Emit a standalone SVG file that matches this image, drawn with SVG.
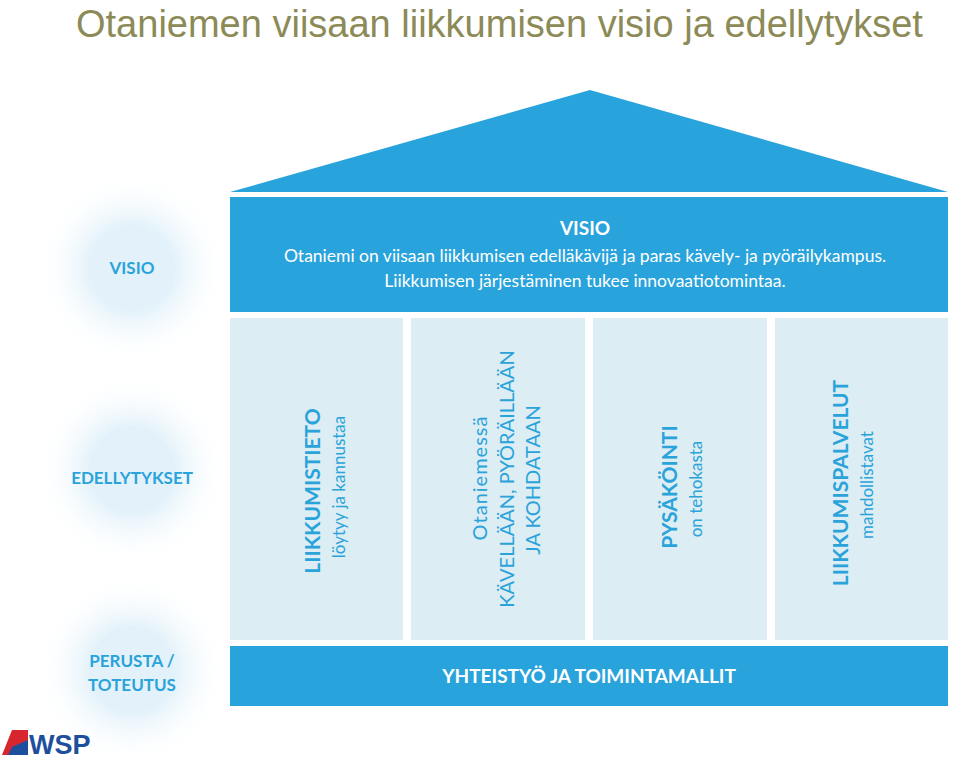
<svg xmlns="http://www.w3.org/2000/svg" width="960" height="764" viewBox="0 0 960 764">
<style>
.t{font-family:"Lato","Liberation Sans",sans-serif;fill:#2aa3da}
.b{font-weight:bold}
.w{font-family:"Lato","Liberation Sans",sans-serif;fill:#fff}
.col{fill:#dcedf3}
.blue{fill:#29a3db}
</style>
<defs>
<radialGradient id="halo"><stop offset="0.45" stop-color="#e3f2fa"/><stop offset="1" stop-color="#ffffff" stop-opacity="0"/></radialGradient>
</defs>
<rect width="960" height="764" fill="#fff"/>
<text x="76" y="37" font-family="Liberation Sans,sans-serif" font-size="38" fill="#8c8a57">Otaniemen viisaan liikkumisen visio ja edellytykset</text>
<g id="halos">
<circle cx="132" cy="268" r="95" fill="url(#halo)"/>
<circle cx="132" cy="470" r="95" fill="url(#halo)"/>
<circle cx="132" cy="670" r="95" fill="url(#halo)"/>
</g>
<g id="label-visio"><text class="t b" x="132" y="274" font-size="17" text-anchor="middle">VISIO</text></g>
<g id="label-edellytykset"><text class="t b" x="132" y="484" font-size="17" text-anchor="middle">EDELLYTYKSET</text></g>
<g id="label-perusta"><text class="t b" x="132" y="667" font-size="17" text-anchor="middle">PERUSTA /</text><text class="t b" x="132" y="691" font-size="17" text-anchor="middle">TOTEUTUS</text></g>
<g id="roof"><polygon class="blue" points="230,192 590,90 948,192"/></g>
<g id="visio">
<rect class="blue" x="230" y="197" width="718" height="115"/>
<text class="w b" x="585" y="235" font-size="19" text-anchor="middle">VISIO</text>
<text class="w" x="585" y="262" font-size="17.5" text-anchor="middle">Otaniemi on viisaan liikkumisen edelläkävijä ja paras kävely- ja pyöräilykampus.</text>
<text class="w" x="585" y="287" font-size="17.5" text-anchor="middle">Liikkumisen järjestäminen tukee innovaatiotomintaa.</text>
</g>
<g id="pillar1">
<rect class="col" x="230" y="318" width="173" height="322"/>
<text class="t b" transform="translate(320,491) rotate(-90)" font-size="21" text-anchor="middle">LIIKKUMISTIETO</text>
<text class="t" transform="translate(345,487) rotate(-90)" font-size="17" text-anchor="middle">löytyy ja kannustaa</text>
</g>
<g id="pillar2">
<rect class="col" x="411" y="318" width="174" height="322"/>
<text class="t" transform="translate(487,478) rotate(-90)" font-size="20" text-anchor="middle" letter-spacing="1">Otaniemessä</text>
<text class="t" transform="translate(514,479) rotate(-90)" font-size="20" text-anchor="middle">KÄVELLÄÄN, PYÖRÄILLÄÄN</text>
<text class="t" transform="translate(540,480) rotate(-90)" font-size="20" text-anchor="middle">JA KOHDATAAN</text>
</g>
<g id="pillar3">
<rect class="col" x="593" y="318" width="174" height="322"/>
<text class="t b" transform="translate(677,487) rotate(-90)" font-size="21" text-anchor="middle">PYSÄKÖINTI</text>
<text class="t" transform="translate(702,489) rotate(-90)" font-size="17" text-anchor="middle">on tehokasta</text>
</g>
<g id="pillar4">
<rect class="col" x="775" y="318" width="173" height="322"/>
<text class="t b" transform="translate(848,483) rotate(-90)" font-size="21" text-anchor="middle">LIIKKUMISPALVELUT</text>
<text class="t" transform="translate(873,485) rotate(-90)" font-size="17" text-anchor="middle">mahdollistavat</text>
</g>
<g id="perusta">
<rect class="blue" x="230" y="646" width="718" height="60"/>
<text class="w b" x="589" y="683" font-size="19" text-anchor="middle">YHTEISTYÖ JA TOIMINTAMALLIT</text>
</g>
<g id="connectors"></g>
<g id="logo">
<polygon points="2,755 12,730 28,730 28,755" fill="#d8262e"/>
<polygon points="12,747 28,740 28,755 8,755" fill="#1d4f9c"/>
<text x="29" y="754" font-family="Liberation Sans,sans-serif" font-weight="bold" font-size="27" fill="#1d4f9c">WSP</text>
</g>
</svg>
